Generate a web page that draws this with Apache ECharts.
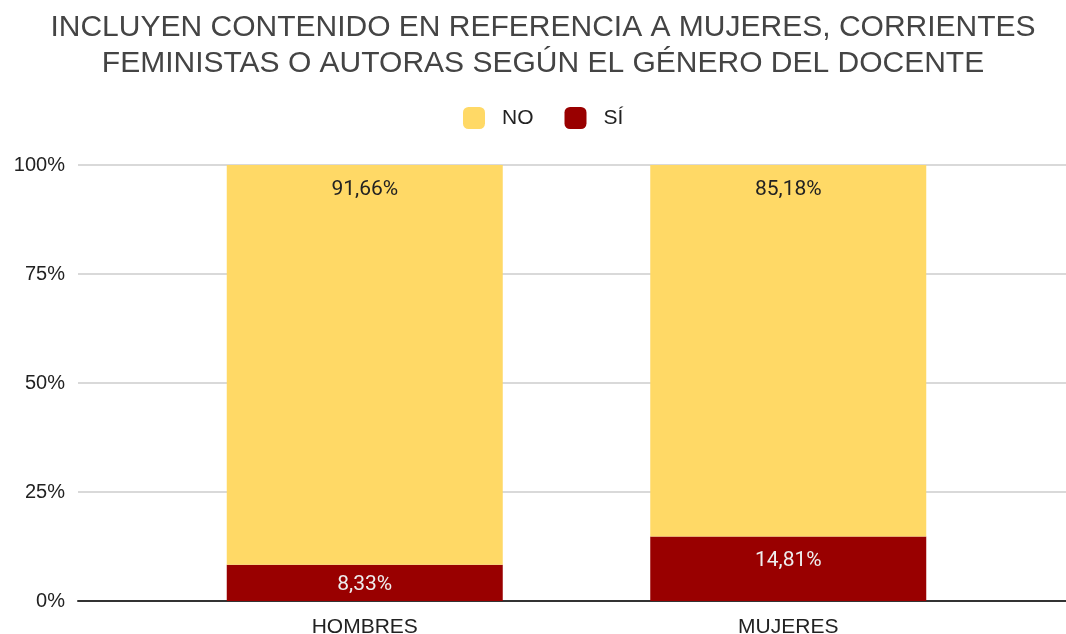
<!DOCTYPE html>
<html>
<head>
    <meta charset="utf-8"/>
    <title>Contenido en referencia a mujeres según el género del docente</title>
    <script src="https://cdn.jsdelivr.net/npm/echarts@6/dist/echarts.min.js"></script>
    <style>
        html, body { margin: 0; padding: 0; background: #fff; }
        #myChart { width: 1066px; height: 634px; }
    </style>
</head>
<body>
<div id="myChart"></div>
<script>
    // datos
    var categories = ['HOMBRES', 'MUJERES'];
    var noValues = [91.66, 85.18];
    var siValues = [8.33, 14.81];
    var yTicks = [0, 25, 50, 75, 100];

    // 100% apilado: cada barra se normaliza a su total
    var toShare = function (vals, i) {
        return vals[i] / (noValues[i] + siValues[i]) * 100;
    };
    var fmt = function (v) {
        return v.toFixed(2).replace('.', ',') + '%';
    };

    var siData = [], noData = [];
    for (var i = 0; i < categories.length; i++) {
        var s = toShare(siValues, i);
        siData.push({
            value: s,
            raw: siValues[i],
            // barra baja: etiqueta centrada
            label: s < 10 ? { position: 'inside', offset: [0, 2] } : { position: 'insideTop' }
        });
        noData.push({ value: toShare(noValues, i), raw: noValues[i] });
    }

    var myChart = echarts.init(document.getElementById('myChart'));
    var option = {
        animation: false,
        title: {
            text: 'INCLUYEN CONTENIDO EN REFERENCIA A MUJERES, CORRIENTES\nFEMINISTAS O AUTORAS SEGÚN EL GÉNERO DEL DOCENTE',
            left: 538,
            textAlign: 'center',
            top: 5,
            textStyle: {
                fontFamily: 'Liberation Sans',
                fontSize: 30,
                fontWeight: 'normal',
                color: '#444444',
                lineHeight: 36
            }
        },
        legend: {
            data: ['NO', 'SÍ'],
            top: 102,
            left: 458,
            icon: 'roundRect',
            itemWidth: 22,
            itemHeight: 22,
            itemGap: 31,
            textStyle: {
                fontFamily: 'Liberation Sans',
                fontSize: 21,
                color: '#222',
                padding: [0, 0, 0, 12]
            }
        },
        grid: [
            { left: 78, right: 0, top: 165, bottom: 33, outerBoundsMode: 'none' },
            { left: 153, right: 66, top: 165, bottom: 33, outerBoundsMode: 'none' }
        ],
        xAxis: [{
            gridIndex: 0,
            type: 'category',
            data: categories,
            axisLine: { lineStyle: { color: '#333', width: 2 } },
            axisTick: { show: false },
            axisLabel: { show: false }
        }, {
            gridIndex: 1,
            type: 'category',
            data: categories,
            axisLine: { show: false },
            axisTick: { show: false },
            axisLabel: {
                fontFamily: 'Liberation Sans',
                fontSize: 21,
                color: '#222',
                margin: 16
            }
        }],
        yAxis: [{
            gridIndex: 0,
            type: 'value',
            min: yTicks[0],
            max: yTicks[yTicks.length - 1],
            interval: 25,
            axisLine: { show: false },
            axisTick: { show: false },
            axisLabel: {
                formatter: '{value}%',
                fontFamily: 'Liberation Sans',
                fontSize: 20,
                color: '#222',
                margin: 13
            },
            splitLine: { lineStyle: { color: '#cccccc', width: 1.5 } }
        }, {
            gridIndex: 1,
            type: 'value',
            min: 0,
            max: 100,
            show: false
        }],
        series: [{
            name: 'SÍ',
            type: 'bar',
            stack: 'total',
            xAxisIndex: 1,
            yAxisIndex: 1,
            barWidth: 276,
            data: siData,
            itemStyle: { color: '#990000' },
            label: {
                show: true,
                distance: 14,
                fontFamily: 'Roboto',
                fontSize: 21,
                color: '#eeeeee',
                formatter: function (p) { return fmt(p.data.raw); }
            }
        }, {
            name: 'NO',
            type: 'bar',
            stack: 'total',
            xAxisIndex: 1,
            yAxisIndex: 1,
            barWidth: 276,
            data: noData,
            itemStyle: { color: '#FFD966' },
            label: {
                show: true,
                position: 'insideTop',
                distance: 14,
                fontFamily: 'Roboto',
                fontSize: 21,
                color: '#222',
                formatter: function (p) { return fmt(p.data.raw); }
            }
        }]
    };
    myChart.setOption(option);
</script>
</body>
</html>
